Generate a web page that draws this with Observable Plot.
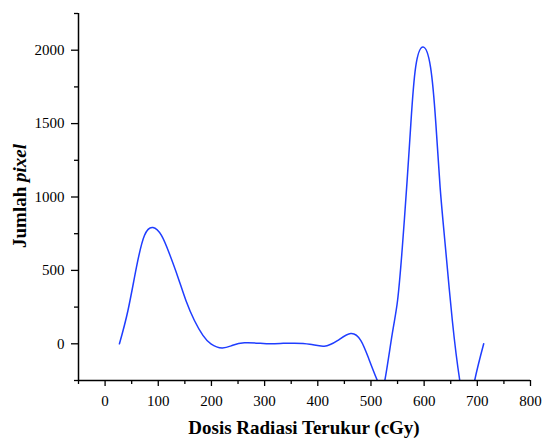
<!DOCTYPE html>
<html>
<head>
<meta charset="utf-8">
<script src="https://cdn.jsdelivr.net/npm/d3@7"></script>
<script src="https://cdn.jsdelivr.net/npm/@observablehq/plot@0.6"></script>
<style>
  html, body { margin: 0; padding: 0; background: #fff; }
  #chart svg { display: block; }
</style>
</head>
<body>
<div id="chart"></div>
<script>
const doses  = [27, 43, 59, 74, 90, 106, 121, 137, 152, 168, 184, 199, 220, 240, 262, 290, 312, 335, 356, 385, 412, 437, 462, 481, 496, 512, 519, 526, 540, 550, 559, 568, 575, 584, 598, 612, 622, 630, 640, 653, 667, 681, 695, 712];
const counts = [0, 227, 522, 738, 792, 738, 613, 454, 295, 159, 57, 0, -28, -10, 7, 4, 0, 3, 4, -3, -16, 22, 70, 22, -103, -250, -300, -250, 68, 295, 659, 1113, 1500, 1885, 2022, 1885, 1500, 1067, 659, 159, -250, -440, -250, 0];
const xTicks = [0, 100, 200, 300, 400, 500, 600, 700, 800];
const xMinor = [-50, 50, 150, 250, 350, 450, 550, 650, 750];
const yTicks = [0, 500, 1000, 1500, 2000];
const yMinor = [-250, 250, 750, 1250, 1750, 2250];
const xLabel = "Dosis Radiasi Terukur (cGy)";
const yLabelMain = "Jumlah ";
const yLabelItalic = "pixel";

const serif = "Liberation Serif, Times New Roman, serif";
const data = doses.map((d, i) => ({dose: d, count: counts[i]}));

const chart = Plot.plot({
  width: 544,
  height: 439,
  marginLeft: 78,
  marginRight: 14,
  marginTop: 13,
  marginBottom: 59,
  style: {fontFamily: serif, fontSize: "15px", color: "#000", background: "#fff"},
  x: {domain: [-50, 800]},
  y: {domain: [-250, 2250]},
  marks: [
    Plot.line(data, {x: "dose", y: "count", curve: "natural", stroke: "#1f3dff", strokeWidth: 1.5, clip: true}),
    Plot.axisX({ticks: xTicks, tickSize: 6, tickPadding: 9, tickFormat: d => String(d), label: null, fontSize: 15, strokeWidth: 1.3}),
    Plot.axisX({ticks: xMinor, tickSize: 4, tickFormat: () => "", label: null, strokeWidth: 1.3}),
    Plot.axisY({ticks: yTicks, tickSize: 7, tickPadding: 7, tickFormat: d => String(d), label: null, fontSize: 15, strokeWidth: 1.3}),
    Plot.axisY({ticks: yMinor, tickSize: 4, tickFormat: () => "", label: null, strokeWidth: 1.3}),
    Plot.ruleY([-250], {stroke: "#000", strokeWidth: 1.5}),
    Plot.ruleX([-50], {stroke: "#000", strokeWidth: 1.5})
  ]
});

document.getElementById("chart").appendChild(chart);

const svg = d3.select(chart);

svg.append("text")
  .attr("x", 304)
  .attr("y", 434)
  .attr("text-anchor", "middle")
  .attr("font-family", serif)
  .attr("font-size", 19)
  .attr("font-weight", "bold")
  .attr("fill", "#000")
  .text(xLabel);

const yl = svg.append("text")
  .attr("transform", "translate(26,196) rotate(-90)")
  .attr("text-anchor", "middle")
  .attr("font-family", serif)
  .attr("font-size", 19)
  .attr("font-weight", "bold")
  .attr("fill", "#000");
yl.append("tspan").text(yLabelMain);
yl.append("tspan").attr("font-style", "italic").text(yLabelItalic);
</script>
</body>
</html>
